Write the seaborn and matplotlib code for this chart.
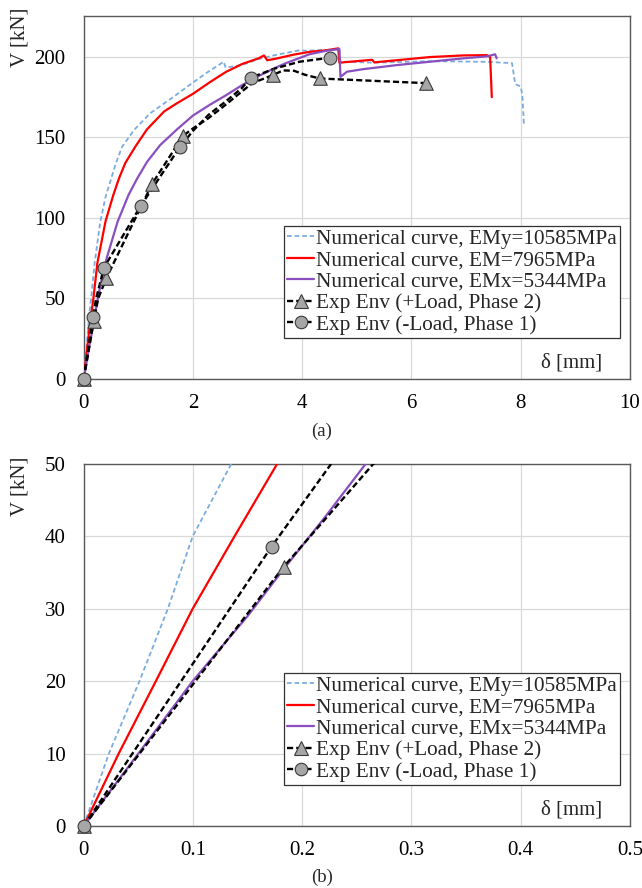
import numpy as np
import pandas as pd
import matplotlib
matplotlib.use("Agg")
import matplotlib.pyplot as plt
import seaborn as sns
from matplotlib.lines import Line2D

# -----------------------------------
# DATA
# -----------------------------------

# Numerical curve, EMy=10585MPa
emy_x = [0, 0.023, 0.051, 0.077, 0.0997, 0.135, 0.2, 0.3, 0.4, 0.49, 0.58, 0.7, 0.92,
         1.22, 1.45, 1.68, 2.0, 2.28, 2.47, 2.56, 2.6, 2.89, 3.2, 3.5, 3.95, 4.07, 4.4,
         4.68, 4.7, 5.3, 6.34, 7.0, 7.4, 7.84, 7.9, 8.0, 8.03, 8.06]
emy_y = [0, 10, 20, 30, 40, 50, 72, 97, 113, 123, 133, 144, 154.5,
         165, 170.5, 176, 184, 190.7, 194.8, 196.9, 193.2, 194.8, 198.5, 201, 204, 203.7, 204.2,
         204.5, 197, 196.3, 197.2, 197, 196.8, 196, 183, 181.5, 176, 157]

# Numerical curve, EM=7965MPa
em_x = [0, 0.032, 0.066, 0.0997, 0.138, 0.177, 0.25, 0.4, 0.54, 0.64, 0.76, 0.95, 1.16,
        1.47, 1.7, 2.0, 2.3, 2.6, 2.9, 3.2, 3.3, 3.36, 3.52, 3.83, 4.13, 4.44, 4.66,
        4.68, 5.28, 5.32, 6.34, 6.95, 7.38, 7.44, 7.47]
em_y = [0, 10, 20, 30, 40, 50, 72, 98, 114, 124, 134, 144.5, 155,
        166, 171, 177, 184, 190.5, 195.5, 199, 200.8, 197.8, 198.8, 201.2, 203, 204, 205.2,
        196.3, 198.1, 196.5, 199.8, 200.8, 201, 199.8, 174.9]

# Numerical curve, EMx=5344MPa
emx_x = [0, 0.05, 0.0997, 0.15, 0.182, 0.22, 0.258, 0.33, 0.42, 0.62, 0.82, 0.98, 1.16,
         1.4, 1.71, 2.0, 2.3, 2.6, 2.9, 3.2, 3.5, 3.7, 4.13, 4.44, 4.68, 4.7, 4.82,
         5.12, 5.73, 6.34, 6.95, 7.38, 7.53, 7.56]
emx_y = [0, 10, 20, 29, 35.3, 42.5, 50, 62, 75, 97.6, 114.2, 124.5, 134.8,
         145.2, 155, 163.5, 170, 176, 182.4, 188, 193, 196, 201.5, 203.7, 204.8, 187.5, 190.7,
         192.3, 194.8, 196.9, 199, 200.2, 201.5, 199]

# Exp Env (+Load, Phase 2): full path and marked points
pos_path_x = [0, 0.183, 0.265, 0.415, 1.25, 1.82, 2.0, 2.28, 2.59, 2.89, 3.08, 3.46,
              3.65, 3.85, 4.05, 4.32, 6.27]
pos_path_y = [0, 35.8, 50, 62.7, 121, 151, 155.5, 161.8, 170, 178.3, 183.5, 188.6,
              191.5, 191.3, 188.8, 186.5, 183.6]
pos_mark_x = [0, 0.183, 0.415, 1.25, 1.82, 3.46, 4.32, 6.27]
pos_mark_y = [0, 35.8, 62.7, 121, 151, 188.6, 186.5, 183.6]

# Exp Env (-Load, Phase 1)
neg_path_x = [0, 0.172, 0.2264, 0.372, 1.04, 1.76, 2.0, 2.28, 2.59, 2.89, 3.06,
              3.5, 3.95, 4.51]
neg_path_y = [0, 38.6, 50, 69.2, 107.3, 144, 154, 163.8, 172, 180.4, 187,
              192.7, 196.9, 199.4]
neg_mark_x = [0, 0.172, 0.372, 1.04, 1.76, 3.06, 4.51]
neg_mark_y = [0, 38.6, 69.2, 107.3, 144, 187, 199.4]

labels = [
    "Numerical curve, EMy=10585MPa",
    "Numerical curve, EM=7965MPa",
    "Numerical curve, EMx=5344MPa",
    "Exp Env (+Load, Phase 2)",
    "Exp Env (-Load, Phase 1)",
]

# -----------------------------------
# STYLE
# -----------------------------------

sns.set_theme(style="whitegrid")
plt.rcParams["font.family"] = ["Liberation Serif", "DejaVu Serif"]

BLUE = "#7bacdf"
RED = "#ff0000"
PURPLE = "#8a4fbf"
BLACK = "#000000"
MFILL = "#a6a6a6"
MEDGE = "#3a3a3a"
FS = 15
LEG_FS = 15.3

blue_ls = (0, (2.6, 1.6))
black_ls = (0, (2.6, 1.3))

fig = plt.figure(figsize=(6.42, 8.88), dpi=100)
ax1 = fig.add_axes([0.1304, 0.5731, 0.8509, 0.4084])
ax2 = fig.add_axes([0.1304, 0.0698, 0.8509, 0.4077])


def draw_panel(ax, xmax, ymax):
    sns.lineplot(x=emy_x, y=emy_y, ax=ax, sort=False, estimator=None,
                 color=BLUE, lw=1.3, linestyle=blue_ls, zorder=3)
    sns.lineplot(x=em_x, y=em_y, ax=ax, sort=False, estimator=None,
                 color=RED, lw=1.6, zorder=4)
    sns.lineplot(x=emx_x, y=emx_y, ax=ax, sort=False, estimator=None,
                 color=PURPLE, lw=1.6, zorder=4)
    sns.lineplot(x=pos_path_x, y=pos_path_y, ax=ax, sort=False, estimator=None,
                 color=BLACK, lw=1.7, linestyle=black_ls, zorder=5)
    sns.lineplot(x=neg_path_x, y=neg_path_y, ax=ax, sort=False, estimator=None,
                 color=BLACK, lw=1.7, linestyle=black_ls, zorder=5)

    # only the markers that fall inside this panel
    pos = pd.DataFrame({"x": pos_mark_x, "y": pos_mark_y})
    pos = pos[(pos.x <= xmax) & (pos.y <= ymax)]
    neg = pd.DataFrame({"x": neg_mark_x, "y": neg_mark_y})
    neg = neg[(neg.x <= xmax) & (neg.y <= ymax)]
    sns.scatterplot(data=pos, x="x", y="y", ax=ax, marker="^", s=95,
                    color=MFILL, edgecolor=MEDGE, linewidth=0.8, zorder=6, clip_on=False)
    sns.scatterplot(data=neg, x="x", y="y", ax=ax, marker="o", s=85,
                    color=MFILL, edgecolor=MEDGE, linewidth=0.8, zorder=6, clip_on=False)

    ax.set_xlim(0, xmax)
    ax.set_ylim(0, ymax)
    ax.set_xlabel("")
    ax.set_ylabel("")
    ax.grid(True, color="#d9d9d9", lw=0.9)
    for sp in ax.spines.values():
        sp.set_color("#595959")
        sp.set_linewidth(1.0)
    ax.tick_params(axis="both", direction="in", length=5, width=0.8,
                   color="#404040", labelsize=FS, labelcolor="black")
    ax.tick_params(axis="y", pad=13)
    ax.tick_params(axis="x", pad=11)

    ax.text(0.893, 0.044, "δ [mm]", transform=ax.transAxes, ha="center",
            va="center", fontsize=FS)

    handles = [
        Line2D([], [], color=BLUE, lw=1.3, linestyle=blue_ls),
        Line2D([], [], color=RED, lw=1.6),
        Line2D([], [], color=PURPLE, lw=1.6),
        Line2D([], [], color=BLACK, lw=1.7, linestyle=black_ls, marker="^",
               markersize=9.5, markerfacecolor=MFILL, markeredgecolor=MEDGE,
               markeredgewidth=0.8),
        Line2D([], [], color=BLACK, lw=1.7, linestyle=black_ls, marker="o",
               markersize=9, markerfacecolor=MFILL, markeredgecolor=MEDGE,
               markeredgewidth=0.8),
    ]
    leg = ax.legend(handles, labels, loc="lower right",
                    bbox_to_anchor=(0.9817, 0.113), fontsize=LEG_FS,
                    frameon=True, fancybox=False, framealpha=1,
                    edgecolor="#333333", borderpad=0.15, labelspacing=0.08,
                    handlelength=1.25, handletextpad=0.1, borderaxespad=0)
    leg.get_frame().set_linewidth(0.9)
    leg.set_zorder(10)


# -----------------------------------
# PANEL (a)
# -----------------------------------

draw_panel(ax1, 10, 225)
ax1.set_xticks([0, 2, 4, 6, 8, 10])
ax1.set_yticks([0, 50, 100, 150, 200])

# -----------------------------------
# PANEL (b)
# -----------------------------------

draw_panel(ax2, 0.5, 50)
ax2.set_xticks([0, 0.1, 0.2, 0.3, 0.4, 0.5])
ax2.set_xticklabels(["0", "0.1", "0.2", "0.3", "0.4", "0.5"])
ax2.set_yticks([0, 10, 20, 30, 40, 50])

# axis titles and captions
fig.text(20 / 642, 1 - 8 / 888, "V [kN]", rotation=90, ha="center", va="top", fontsize=FS)
fig.text(20 / 642, 1 - 457 / 888, "V [kN]", rotation=90, ha="center", va="top", fontsize=FS)
fig.text(322 / 642, 1 - 431 / 888, "(a)", ha="center", va="center", fontsize=13.5)
fig.text(322 / 642, 1 - 877 / 888, "(b)", ha="center", va="center", fontsize=13.5)

plt.savefig("out.png", dpi=100)
